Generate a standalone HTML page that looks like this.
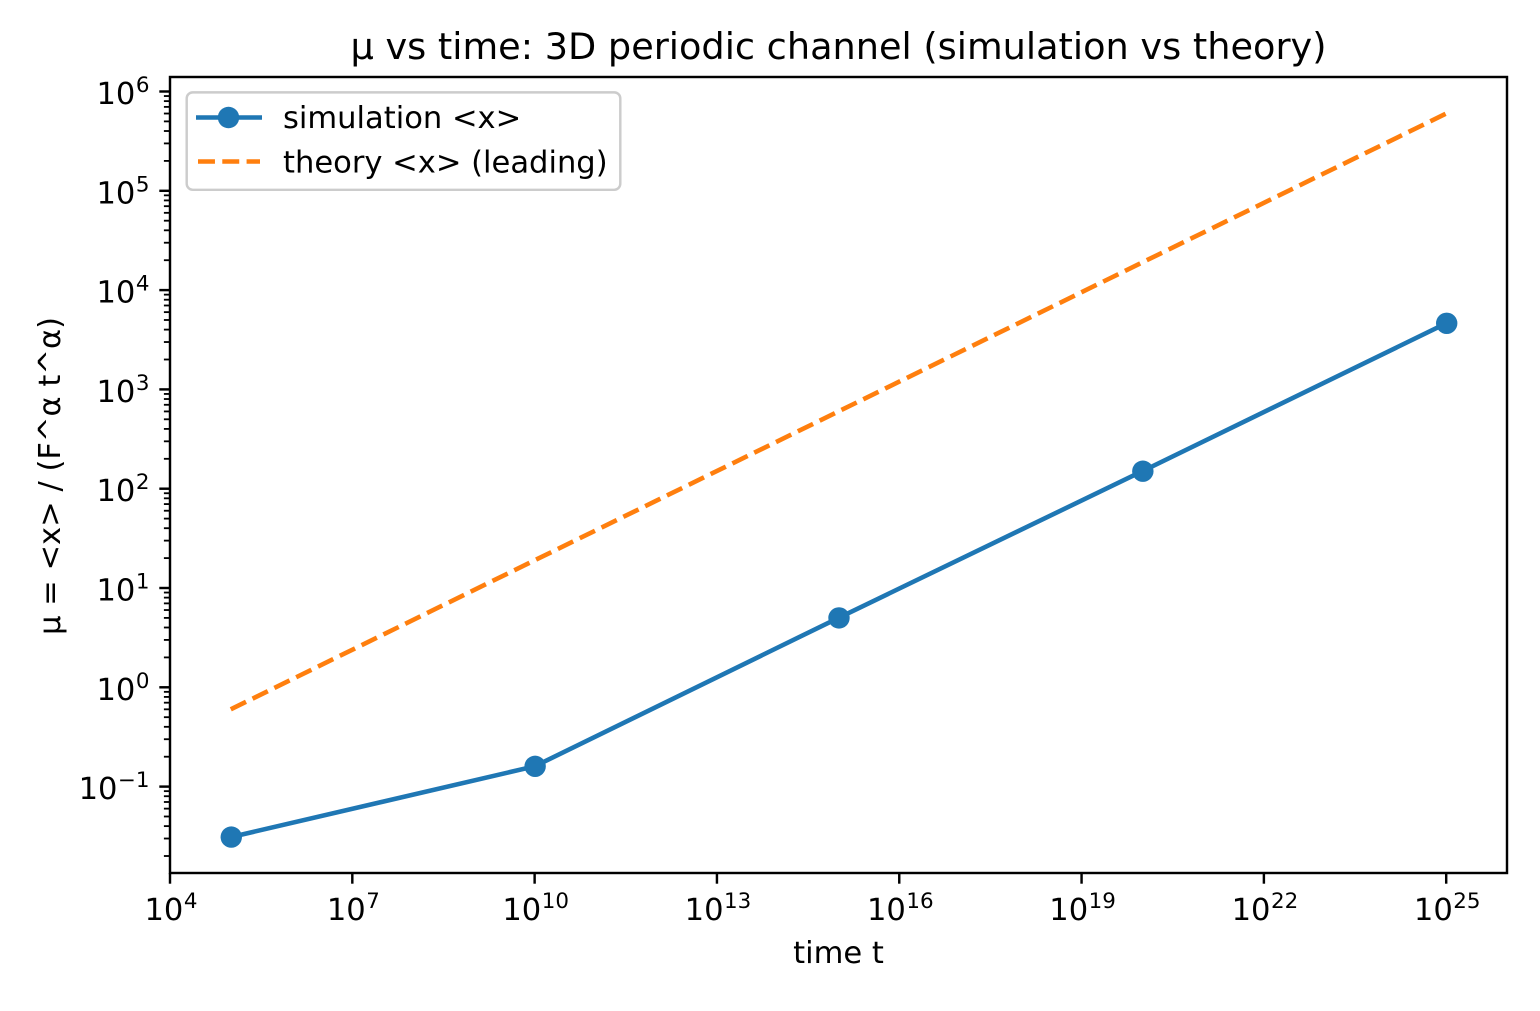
<!DOCTYPE html>
<html>
<head>
<meta charset="utf-8">
<title>μ vs time</title>
<style>
html,body{margin:0;padding:0;background:#fff;width:1540px;height:1011px;overflow:hidden}
svg{display:block}
text{font-family:"DejaVu Sans","Liberation Sans",sans-serif;fill:#000}
</style>
</head>
<body>
<svg id="chart" xmlns="http://www.w3.org/2000/svg" width="1540" height="1011" viewBox="0 0 1540 1011">
  <rect x="0" y="0" width="1540" height="1011" fill="#fff"/>
  <g id="marks"></g>
  <g id="ticks"></g>
  <rect x="170" y="77" width="1337" height="796" fill="none" stroke="#000" stroke-width="2.44"/>
  <text x="838.5" y="59" font-size="36.67" text-anchor="middle">μ vs time: 3D periodic channel (simulation vs theory)</text>
  <text x="838.5" y="963" font-size="30.56" text-anchor="middle">time t</text>
  <text transform="translate(60,476) rotate(-90)" font-size="30.56" text-anchor="middle">μ = &lt;x&gt; / (F^α t^α)</text>
  <g>
    <rect x="186.7" y="92.4" width="433.6" height="97.4" rx="6" ry="6" fill="#fff" fill-opacity="0.8" stroke="#cccccc" stroke-width="2.44"/>
    <line x1="196" y1="117.5" x2="262" y2="117.5" stroke="#1f77b4" stroke-width="4.58"/>
    <circle cx="228.5" cy="117.5" r="10.7" fill="#1f77b4"/>
    <text x="283" y="128" font-size="30.56">simulation &lt;x&gt;</text>
    <line x1="198" y1="161.5" x2="260" y2="161.5" stroke="#ff7f0e" stroke-width="4.58" stroke-dasharray="16.96 7.33"/>
    <text x="283" y="172.7" font-size="30.56">theory &lt;x&gt; (leading)</text>
  </g>
</svg>
<script>
var times = [1e5, 1e10, 1e15, 1e20, 1e25];
var simulationValues = [0.031, 0.16, 5, 150, 4630];
var theoryValues = [0.6, 19, 600, 19000, 600000];
var xTickExponents = ["4", "7", "10", "13", "16", "19", "22", "25"];
var yTickExponents = ["-1", "0", "1", "2", "3", "4", "5", "6"];
var yMinorMultipliers = [2, 3, 4, 5, 6, 7, 8, 9];

var NS = 'http://www.w3.org/2000/svg';
var marks = document.getElementById('marks');
var ticks = document.getElementById('ticks');

function xPos(t) { return 170 + (Math.log10(t) - 4) * (1446.2 - 170) / 21; }
function yPos(v) { return 687.3 - Math.log10(v) * 99.3; }
function make(tag, parent) {
  var el = document.createElementNS(NS, tag);
  parent.appendChild(el);
  return el;
}
function attrs(el, map) {
  for (var k in map) { el.setAttribute(k, map[k]); }
}
function pointsFor(values) {
  return values.map(function (v, i) { return xPos(times[i]).toFixed(2) + ',' + yPos(v).toFixed(2); }).join(' ');
}

var theoryLine = make('polyline', marks);


attrs(theoryLine, { points: pointsFor(theoryValues), fill: 'none', stroke: '#ff7f0e', 'stroke-width': 4.58, 'stroke-dasharray': '16.96 7.33' });

var simLine = make('polyline', marks);


attrs(simLine, { points: pointsFor(simulationValues), fill: 'none', stroke: '#1f77b4', 'stroke-width': 4.58, 'stroke-linejoin': 'round' });

simulationValues.forEach(function (v, i) {
  var dot = make('circle', marks);
  
  
  attrs(dot, { cx: xPos(times[i]) + 0.5, cy: yPos(v), r: 10.7, fill: '#1f77b4' });
});

function supText(s) { return s.replace('-', '\u2212'); }
function supWidth(s) { return s.length * 13.6 + (s.charAt(0) === '-' ? 4.3 : 0); }

xTickExponents.forEach(function (e) {
  var x = xPos(Math.pow(10, Number(e)));
  var tick = make('line', ticks);
  
  
  attrs(tick, { x1: x, x2: x, y1: 873, y2: 883.7, stroke: '#000', 'stroke-width': 2.44 });
  var total = 38.9 + 0.5 + supWidth(e);
  var start = x - total / 2 + 1;
  var base = make('text', ticks);
  
  
  attrs(base, { x: start, y: 920, 'font-size': 30.56 });
  base.textContent = '10';
  var sup = make('text', ticks);
  
  
  attrs(sup, { x: start + 39.4, y: 908, 'font-size': 21.4 });
  sup.textContent = supText(e);
});

yTickExponents.forEach(function (e) {
  var decade = Math.pow(10, Number(e));
  var y = yPos(decade);
  var tick = make('line', ticks);
  
  
  attrs(tick, { x1: 159.3, x2: 170, y1: y, y2: y, stroke: '#000', 'stroke-width': 2.44 });
  var total = 38.9 + 0.5 + supWidth(e);
  var start = 149.5 - total;
  var base = make('text', ticks);
  
  
  attrs(base, { x: start, y: y + 12.5, 'font-size': 30.56 });
  base.textContent = '10';
  var sup = make('text', ticks);
  
  
  attrs(sup, { x: start + 39.4, y: y + 0.5, 'font-size': 21.4 });
  sup.textContent = supText(e);
});

[-2].concat(yTickExponents.map(Number)).forEach(function (e) {
  yMinorMultipliers.forEach(function (m) {
    var y = yPos(m * Math.pow(10, e));
    if (y < 77 || y > 873) { return; }
    var minor = make('line', ticks);
    
    
    attrs(minor, { x1: 163.9, x2: 170, y1: y, y2: y, stroke: '#000', 'stroke-width': 1.83 });
  });
});
</script>
</body>
</html>
